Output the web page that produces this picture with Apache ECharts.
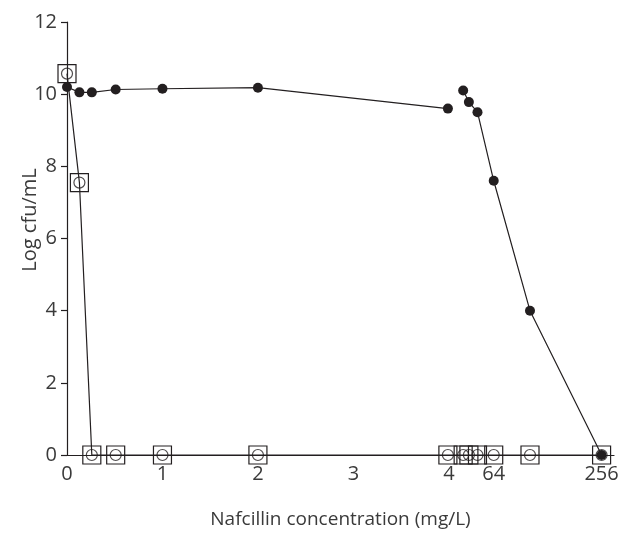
<!DOCTYPE html>
<html>
<head>
<meta charset="utf-8">
<script src="https://cdn.jsdelivr.net/npm/echarts@6/dist/echarts.min.js"></script>
<style>html,body{margin:0;padding:0;background:#fff}#c{width:631px;height:534px}</style>
</head>
<body>
<div id="c"></div>
<script>
// Nafcillin concentrations (mg/L) and their position on the drawn (broken) axis
var concentrations = ['0','0.125','0.25','0.5','1','2','4','8','16','32','64','128','256'];
var axisPositions = [0, 0.13, 0.26, 0.51, 1, 2, 3.99, 4.15, 4.21, 4.3, 4.47, 4.85, 5.6];
// Log cfu/mL
var filledSeries = [10.2, 10.05, 10.05, 10.13, 10.15, 10.18, 9.6, 10.1, 9.78, 9.5, 7.6, 4.0, 0];
var openSeries = [10.57, 7.55, 0, 0, 0, 0, 0, 0, 0, 0, 0, 0, 0];
// x tick labels
var xTickLabels = ['0', '1', '2', '3', '4', '64', '256'];
var xTickPositions = [0, 1, 2, 3, 4, 4.47, 5.6];
var yTicks = [0, 2, 4, 6, 8, 10, 12];

var ink = '#231f20';
var font = 'Open Sans';
var textColor = '#3a3a3a';

function pairs(ys, from, to) {
  var out = [];
  for (var i = from; i <= to; i++) out.push([axisPositions[i], ys[i]]);
  return out;
}

var chart = echarts.init(document.getElementById('c'));
chart.setOption({
  backgroundColor: '#fff',
  animation: false,
  grid: { left: 67, right: 17, top: 22, bottom: 68, containLabel: false },
  graphic: [{
    type: 'text', x: 30, y: 220, rotation: Math.PI / 2,
    style: { text: 'Log cfu/mL', fontFamily: font, fontSize: 20, fill: textColor,
             align: 'center', verticalAlign: 'middle' }
  }],
  xAxis: {
    type: 'value', min: 0, max: 5.73,
    name: 'Nafcillin concentration (mg/L)',
    nameLocation: 'middle', nameGap: 55,
    nameTextStyle: { fontFamily: font, fontSize: 19, color: textColor },
    axisLine: { show: true, onZero: true, lineStyle: { color: ink, width: 1.2 } },
    axisTick: { show: false },
    splitLine: { show: false },
    axisLabel: {
      customValues: xTickPositions,
      formatter: function (v) {
        for (var i = 0; i < xTickPositions.length; i++) {
          if (Math.abs(xTickPositions[i] - v) < 1e-6) return xTickLabels[i];
        }
        return '';
      },
      fontFamily: font, fontSize: 20, color: textColor, margin: 9
    }
  },
  yAxis: {
    type: 'value', min: yTicks[0], max: yTicks[yTicks.length - 1], interval: 2,
    axisLine: { show: true, lineStyle: { color: ink, width: 1.2 } },
    axisTick: { show: true, length: 6, lineStyle: { color: ink, width: 1.2 } },
    splitLine: { show: false },
    axisLabel: { fontFamily: font, fontSize: 20, color: textColor, margin: 10 }
  },
  series: [
    {
      type: 'line', data: pairs(openSeries, 0, 12),
      symbol: 'rect', symbolSize: 18,
      lineStyle: { color: ink, width: 1.2 },
      itemStyle: { color: 'rgba(0,0,0,0)', borderColor: ink, borderWidth: 1.2 },
      z: 2
    },
    {
      type: 'scatter', data: pairs(openSeries, 0, 12),
      symbol: 'circle', symbolSize: 11,
      itemStyle: { color: 'rgba(0,0,0,0)', borderColor: ink, borderWidth: 1.2 },
      z: 3
    },
    {
      type: 'line', data: pairs(filledSeries, 0, 6),
      symbol: 'circle', symbolSize: 10,
      lineStyle: { color: ink, width: 1.2 },
      itemStyle: { color: ink },
      z: 4
    },
    {
      type: 'line', data: pairs(filledSeries, 7, 12),
      symbol: 'circle', symbolSize: 10,
      lineStyle: { color: ink, width: 1.2 },
      itemStyle: { color: ink },
      z: 4
    }
  ]
});
</script>
</body>
</html>
